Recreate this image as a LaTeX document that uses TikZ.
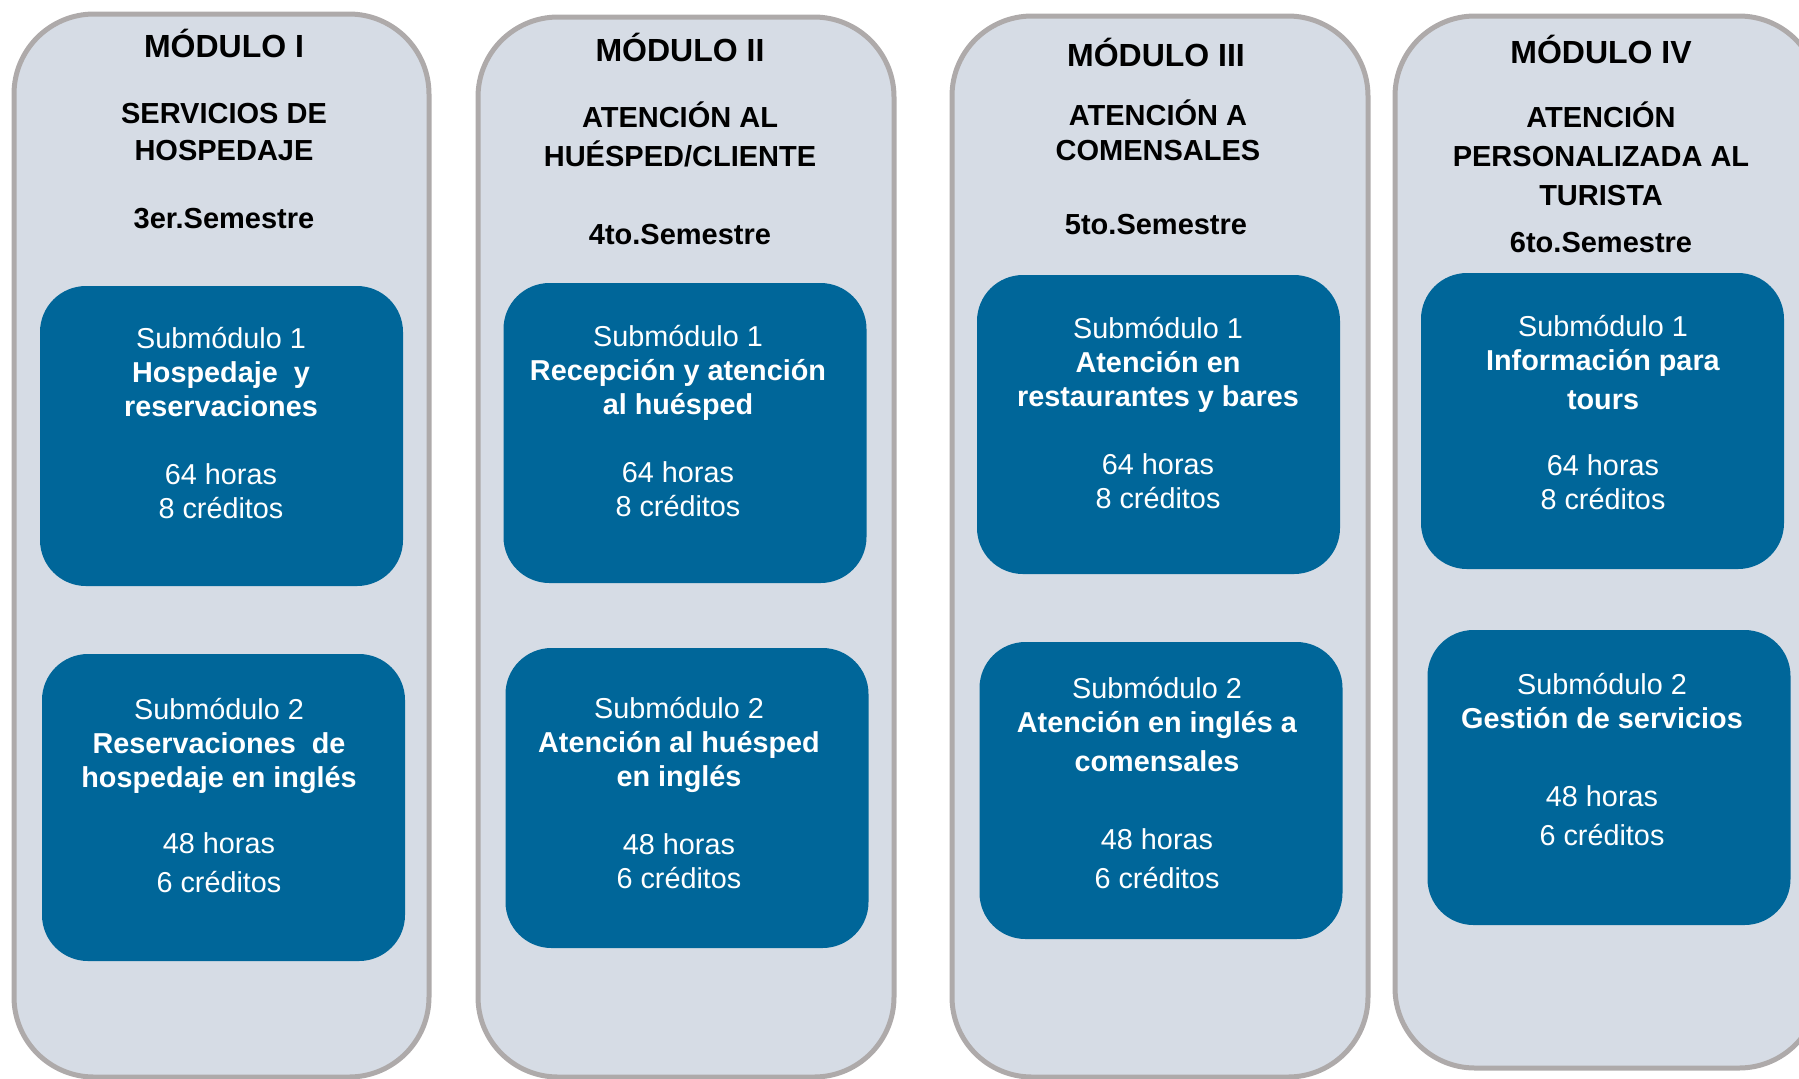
\documentclass[tikz,border=0pt]{standalone}
\usepackage{fontspec}
\setmainfont{Liberation Sans}
\usetikzlibrary{positioning}
\definecolor{modfill}{RGB}{214,220,229}
\definecolor{modline}{RGB}{174,170,170}
\definecolor{subfill}{RGB}{0,102,153}

\begin{document}
\begin{tikzpicture}[x=0.5pt,y=-0.5pt,
    modbox/.style={draw=modline, line width=2.5pt, fill=modfill, rounded corners=40pt, inner sep=0pt},
    subbox/.style={fill=subfill, rounded corners=23pt, inner sep=0pt, minimum width=181.5pt},
    modtitle/.style={anchor=base, font=\fontsize{16}{19}\selectfont\bfseries},
    modname/.style={align=center, font=\fontsize{14.5}{18.5}\selectfont\bfseries},
    semtext/.style={anchor=base, font=\fontsize{14.5}{18}\selectfont\bfseries},
    subtext/.style={text=white, align=center, font=\fontsize{14.4}{17}\selectfont}]

    \useasboundingbox (0,0) rectangle (1799,1078);

    % columns
    \node[modbox, minimum width=207.5pt, minimum height=531.5pt] (mod1) at (221.5,545.5) {};
    \node[modbox, minimum width=208pt, minimum height=530pt] (mod2) at (686,547) {};
    \node[modbox, minimum width=208pt, minimum height=530.5pt] (mod3) at (1160,546.5) {};
    \node[modbox, minimum width=212pt, minimum height=526pt] (mod4) at (1607,542) {};

    % module I
    \node[modtitle] (tit1) at (224,57) {MÓDULO I};
    \node[modname] (nom1) at (224,132.5) {SERVICIOS DE\\HOSPEDAJE};
    \node[semtext] (sem1) at (224,228) {3er.Semestre};

    \node[subbox, minimum height=150pt] (sub11) at (221.5,436) {};
    \node[subtext] (txt11) at (221,423) {Submódulo 1\\ \textbf{Hospedaje\ \ y}\\ \textbf{reservaciones}\\[17pt] 64 horas\\ 8 créditos};

    \node[subbox, minimum height=153.5pt] (sub12) at (223.5,807.5) {};
    \node[subtext] (txt12) at (219,796) {Submódulo 2\\ \textbf{Reservaciones\ \ de}\\ \textbf{hospedaje en inglés}\\[16pt] 48 horas\\[2.5pt] 6 créditos};

    % module II
    \node[modtitle] (tit2) at (680,61.5) {MÓDULO II};
    \node[modname] (nom2) at (680,134) {ATENCIÓN AL\\[1pt] HUÉSPED/CLIENTE};
    \node[semtext] (sem2) at (680,244) {4to.Semestre};

    \node[subbox, minimum height=150pt] (sub21) at (685,433) {};
    \node[subtext] (txt21) at (678,421) {Submódulo 1\\ \textbf{Recepción y atención}\\ \textbf{al huésped}\\[17pt] 64 horas\\ 8 créditos};

    \node[subbox, minimum height=150pt] (sub22) at (687,798) {};
    \node[subtext] (txt22) at (679,793.5) {Submódulo 2\\ \textbf{Atención al huésped}\\ \textbf{en inglés}\\[17pt] 48 horas\\ 6 créditos};

    % module III
    \node[modtitle] (tit3) at (1156,66.5) {MÓDULO III};
    \node[modname] (nom3) at (1158,130) {ATENCIÓN A\\[-1pt] COMENSALES};
    \node[semtext] (sem3) at (1156,234) {5to.Semestre};

    \node[subbox, minimum height=149.5pt] (sub31) at (1158.5,424.5) {};
    \node[subtext] (txt31) at (1158,413) {Submódulo 1\\ \textbf{Atención en}\\ \textbf{restaurantes y bares}\\[17pt] 64 horas\\ 8 créditos};

    \node[subbox, minimum height=148.5pt] (sub32) at (1161,790.5) {};
    \node[subtext] (txt32) at (1157,783) {Submódulo 2\\ \textbf{Atención en inglés a}\\[2.5pt] \textbf{comensales}\\[22pt] 48 horas\\[2.5pt] 6 créditos};

    % module IV
    \node[modtitle] (tit4) at (1601,63.5) {MÓDULO IV};
    \node[modname] (nom4) at (1601,154) {ATENCIÓN\\[1pt] PERSONALIZADA AL\\[1pt] TURISTA};
    \node[semtext] (sem4) at (1601,252) {6to.Semestre};

    \node[subbox, minimum height=148pt] (sub41) at (1602.5,421) {};
    \node[subtext] (txt41) at (1603,413) {Submódulo 1\\ \textbf{Información para}\\[2.5pt] \textbf{tours}\\[16pt] 64 horas\\ 8 créditos};

    \node[subbox, minimum height=147.5pt] (sub42) at (1609,777.5) {};
    \node[subtext] (txt42) at (1602,760) {Submódulo 2\\ \textbf{Gestión de servicios}\\[22pt] 48 horas\\[2.5pt] 6 créditos};

\end{tikzpicture}
\end{document}
